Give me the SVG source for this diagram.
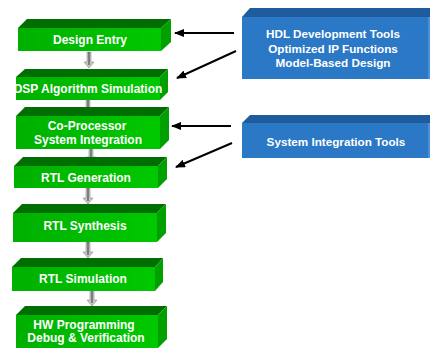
<svg xmlns="http://www.w3.org/2000/svg" width="430" height="348" viewBox="0 0 430 348">
<defs>
<linearGradient id="gf" x1="0" y1="0" x2="1" y2="0"><stop offset="0" stop-color="#00B000"/><stop offset="1" stop-color="#00C800"/></linearGradient>
<marker id="ah" viewBox="0 0 10 8" refX="9" refY="4" markerWidth="10" markerHeight="8" markerUnits="userSpaceOnUse" orient="auto"><path d="M0,0 L10,4 L0,8 z" fill="#000"/></marker>
<g id="dn"><path d="M-2,0 h4 v10 h3 l-5,6 l-5,-6 h3 z" fill="#C8C8C8" stroke="#8A8A8A" stroke-width="0.6"/><line x1="0" y1="0" x2="0" y2="13" stroke="#333" stroke-width="1"/></g>
</defs>
<style>
.f{fill:url(#gf)}
.t{fill:#006E00}
.s{fill:#00A000}
.bf{fill:#2B78C6}
.bt{fill:#1F5C9E}
.bs{fill:#4A90D8}
text{font-family:"Liberation Sans",Arial,sans-serif;font-weight:bold;font-size:12px;fill:#fff;text-anchor:middle}
.bl text{font-size:11.7px}
.c{stroke:#000;stroke-width:2;fill:none;marker-end:url(#ah)}
</style>
<rect width="430" height="348" fill="#fff"/>
<g id="connectors">
<use href="#dn" x="89" y="52"/>
<use href="#dn" x="88" y="98"/>
<use href="#dn" x="91" y="147"/>
<use href="#dn" x="88" y="188"/>
<use href="#dn" x="88" y="242"/>
<use href="#dn" x="92" y="290"/>
<line class="c" x1="234" y1="33" x2="175" y2="33"/>
<line class="c" x1="236" y1="51" x2="177" y2="78"/>
<line class="c" x1="231" y1="126" x2="172" y2="126"/>
<line class="c" x1="232" y1="143" x2="176" y2="167"/>
</g>
<g id="n1">
<polygon class="t" points="18,28 27,19 171,19 161,28"/><polygon class="s" points="161,28 171,19 171,42 161,51"/><rect class="f" x="18" y="28" width="143" height="23"/>
<text x="90" y="44">Design Entry</text>
</g>
<g id="n2">
<polygon class="t" points="16,77 25,69 168,69 160,77"/><polygon class="s" points="160,77 168,69 168,92 160,100"/><rect class="f" x="16" y="77" width="144" height="23"/>
<text x="88" y="93">DSP Algorithm Simulation</text>
</g>
<g id="n3">
<polygon class="t" points="16,116 25,107 169,107 160,116"/><polygon class="s" points="160,116 169,107 169,140 160,149"/><rect class="f" x="16" y="116" width="144" height="33"/>
<text x="87" y="130">Co-Processor</text><text x="88" y="144">System Integration</text>
</g>
<g id="n4">
<polygon class="t" points="14,166 23,157 167,157 158,166"/><polygon class="s" points="158,166 167,157 167,179 158,188"/><rect class="f" x="14" y="166" width="144" height="22"/>
<text x="86" y="182">RTL Generation</text>
</g>
<g id="n5">
<polygon class="t" points="13,213 22,204 166,204 157,213"/><polygon class="s" points="157,213 166,204 166,233 157,242"/><rect class="f" x="13" y="213" width="144" height="29"/>
<text x="85" y="230">RTL Synthesis</text>
</g>
<g id="n6">
<polygon class="t" points="12,267 21,258 163,258 155,267"/><polygon class="s" points="155,267 163,258 163,282 155,291"/><rect class="f" x="12" y="267" width="143" height="24"/>
<text x="83" y="283">RTL Simulation</text>
</g>
<g id="n7">
<polygon class="t" points="16,315 25,306 167,306 158,315"/><polygon class="s" points="158,315 167,306 167,339 158,348"/><rect class="f" x="16" y="315" width="142" height="33"/>
<text x="84" y="329">HW Programming</text><text x="86" y="342">Debug &amp; Verification</text>
</g>
<g id="b1" class="bl">
<polygon class="bt" points="242,17 250,8 430,8 430,17"/><rect class="bf" x="242" y="17" width="186" height="62"/><rect class="bs" x="428" y="17" width="2" height="62"/>
<text x="333" y="38">HDL Development Tools</text><text x="333" y="53">Optimized IP Functions</text><text x="333" y="67">Model-Based Design</text>
</g>
<g id="b2" class="bl">
<polygon class="bt" points="242,123 250,115 430,115 430,123"/><rect class="bf" x="242" y="123" width="186" height="35"/><rect class="bs" x="428" y="123" width="2" height="35"/>
<text x="336" y="146">System Integration Tools</text>
</g>
</svg>
